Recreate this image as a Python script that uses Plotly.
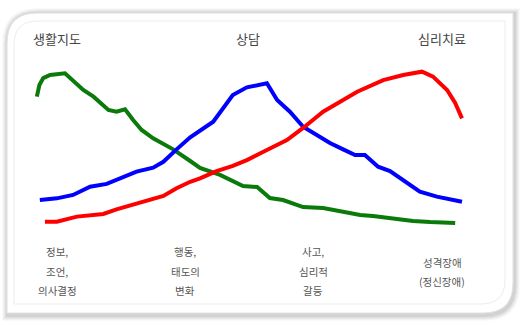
import plotly.graph_objects as go

W, H = 521, 327

# Conceptual continuum (x: 0-100) and intensity (y: 0-100)
green_x = [0.2, 0.8, 1.7, 3.3, 6.8, 8.8, 11.1, 13.5, 17.0, 18.9, 20.9, 22.8, 24.8, 27.5, 29.9, 32.2,
           36.2, 38.5, 43.2, 48.6, 51.9, 54.9, 58.0, 62.7, 67.4, 72.1, 76.1, 79.1, 83.8, 88.5, 92.5, 98.4]
green_y = [82.8, 90.3, 94.8, 96.8, 97.9, 93.1, 87.1, 82.8, 74.2, 73.1, 74.6, 67.7, 61.3, 55.9, 52.3, 48.8,
           41.3, 36.8, 32.3, 25.2, 24.5, 17.4, 16.1, 11.6, 11.0, 8.4, 6.5, 5.8, 3.9, 2.6, 1.9, 1.3]

blue_x = [0.9, 4.9, 8.7, 12.7, 16.6, 19.7, 23.6, 27.5, 29.9, 33.0, 36.2, 41.6, 43.9, 46.2, 49.5, 54.2,
          56.6, 59.6, 62.7, 66.0, 69.0, 72.1, 74.9, 77.2, 80.3, 83.1, 86.2, 90.1, 94.1, 100.0]
blue_y = [16.1, 17.2, 19.4, 24.7, 26.5, 30.3, 34.4, 37.0, 40.8, 48.8, 56.6, 66.6, 75.3, 83.9, 88.8, 91.4,
          80.6, 73.1, 63.4, 58.1, 52.9, 48.8, 45.2, 45.2, 37.6, 34.8, 28.6, 21.5, 18.3, 15.0]

red_x = [2.1, 4.9, 9.6, 15.8, 18.9, 23.6, 26.8, 29.9, 33.0, 36.2, 38.5, 42.4, 46.2, 49.5, 54.2, 58.9,
         62.7, 67.4, 71.4, 75.4, 81.5, 86.2, 90.6, 93.2, 96.5, 98.4, 100.0]
red_y = [2.1, 2.1, 5.4, 7.1, 10.1, 13.5, 16.1, 18.7, 23.7, 27.9, 30.1, 34.8, 38.1, 41.9, 48.4, 54.8,
         62.6, 73.1, 79.5, 86.0, 93.5, 96.8, 98.9, 95.7, 87.1, 78.7, 68.8]

top_labels = ["생활지도", "상담", "심리치료"]
bottom_labels = [["정보,", "조언,", "의사결정"], ["행동,", "태도의", "변화"],
                 ["사고,", "심리적", "갈등"], ["성격장애", "(정신장애)"]]

fig = go.Figure()
for xs, ys, col in [(green_x, green_y, "#0a7a0a"), (blue_x, blue_y, "#0000ff"), (red_x, red_y, "#ff0000")]:
    fig.add_trace(go.Scatter(x=xs, y=ys, mode="lines", line=dict(color=col, width=4),
                             hoverinfo="skip", showlegend=False))


def P(px, py):
    return f"{px / W:.5f},{1 - py / H:.5f}"


def frame_path(x0, y0, x1, y1, r):
    # rounded top-left and bottom-right corners
    return (f"M {P(x0, y0 + r)} Q {P(x0, y0)} {P(x0 + r, y0)} L {P(x1, y0)} "
            f"L {P(x1, y1 - r)} Q {P(x1, y1)} {P(x1 - r, y1)} L {P(x0, y1)} Z")


shapes = []
# soft shadow
for i, a in enumerate([0.025, 0.03, 0.035, 0.04, 0.05]):
    d = 6 - i
    shapes.append(dict(type="path", xref="paper", yref="paper", layer="below",
                       path=frame_path(7 - d + 1, 13 - d + 1, 513 + d + 1, 313 + d + 2, 30 + d),
                       fillcolor=f"rgba(0,0,0,{a})", line=dict(width=0)))
shapes.append(dict(type="path", xref="paper", yref="paper", layer="below",
                   path=frame_path(7, 13, 513, 313, 30),
                   fillcolor="white", line=dict(color="#e2e2e2", width=1)))
shapes.append(dict(type="path", xref="paper", yref="paper", layer="below",
                   path=frame_path(14, 21, 505, 304, 24),
                   fillcolor="white", line=dict(color="#ececec", width=1)))

annotations = []
font_top = dict(family="Noto Sans CJK KR", size=13, color="#444444")
font_bot = dict(family="Noto Sans CJK KR", size=10.5, color="#555555")
for label, cx in zip(top_labels, [57, 248, 442]):
    annotations.append(dict(text=label, x=cx / W, y=1 - 38 / H, xref="paper", yref="paper",
                            showarrow=False, xanchor="center", yanchor="middle", font=font_top))
bottom_pos = [(57, [251, 271, 290]), (185, [251, 271, 290]), (313, [251, 271, 290]), (442, [262, 281])]
for lines, (cx, ys) in zip(bottom_labels, bottom_pos):
    for t, yy in zip(lines, ys):
        annotations.append(dict(text=t, x=cx / W, y=1 - yy / H, xref="paper", yref="paper",
                                showarrow=False, xanchor="center", yanchor="middle", font=font_bot))

# x: 0 at px 36, 100 at px 462 ; y: 0 at px 225, 100 at px 70
sx = (462 - 36) / 100
sy = (225 - 70) / 100
fig.update_layout(
    width=W, height=H, margin=dict(l=0, r=0, t=0, b=0),
    paper_bgcolor="white", plot_bgcolor="rgba(0,0,0,0)",
    xaxis=dict(range=[-36 / sx, (W - 36) / sx], visible=False, fixedrange=True),
    yaxis=dict(range=[-(H - 225) / sy, 100 + 70 / sy], visible=False, fixedrange=True),
    shapes=shapes, annotations=annotations,
)
fig.write_html("out.html", config=dict(displayModeBar=False))
